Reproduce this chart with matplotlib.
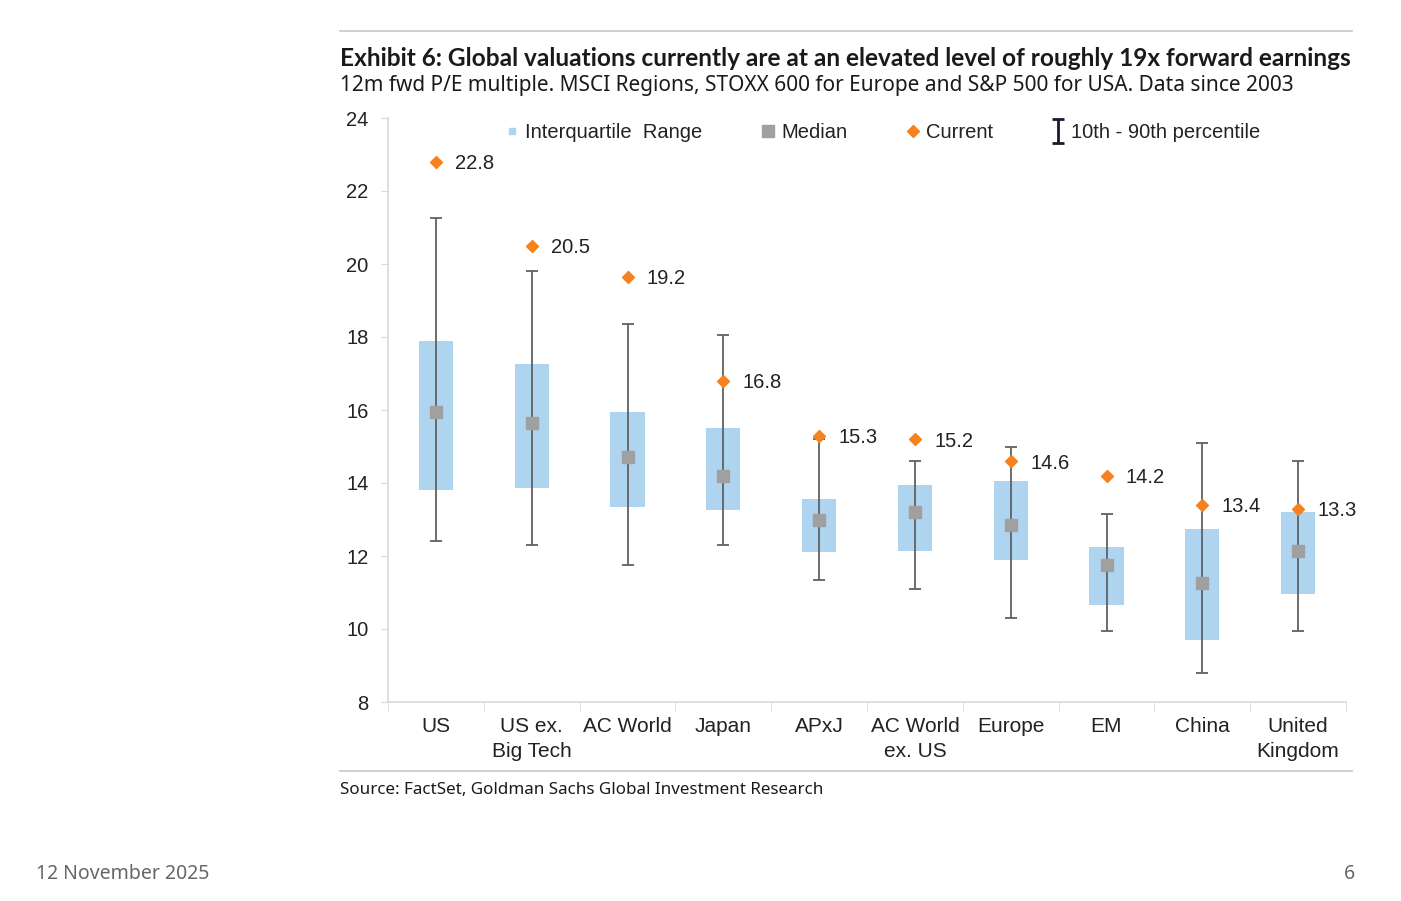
import numpy as np
import matplotlib.pyplot as plt
from matplotlib.lines import Line2D
from matplotlib.path import Path

regions = ['US', 'US ex.\nBig Tech', 'AC World', 'Japan', 'APxJ',
           'AC World\nex. US', 'Europe', 'EM', 'China', 'United\nKingdom']
p10 = [12.4, 12.3, 11.75, 12.3, 11.35, 11.1, 10.3, 9.95, 8.8, 9.95]
p25 = [13.8, 13.85, 13.35, 13.25, 12.1, 12.15, 11.9, 10.65, 9.7, 10.95]
median = [15.95, 15.65, 14.7, 14.2, 13.0, 13.2, 12.85, 11.75, 11.25, 12.15]
p75 = [17.9, 17.25, 15.95, 15.5, 13.55, 13.95, 14.05, 12.25, 12.75, 13.2]
p90 = [21.25, 19.8, 18.35, 18.05, 15.2, 14.6, 15.0, 13.15, 15.1, 14.6]
# marker positions as drawn in the source chart (AC World marker sits above its label)
current = [22.8, 20.5, 19.65, 16.8, 15.3, 15.2, 14.6, 14.2, 13.4, 13.3]
current_labels = ['22.8', '20.5', '19.2', '16.8', '15.3', '15.2', '14.6',
                  '14.2', '13.4', '13.3']

IQR_BLUE = '#aed4f0'
MED_GRAY = '#a0a0a0'
ORANGE = '#f5821f'
WHISK = '#606060'
AXIS_GRAY = '#d9d9d9'
CHART_FONT = ['Liberation Sans', 'DejaVu Sans']

fig = plt.figure(figsize=(14.01, 9.01), dpi=100)
W, H = 1401, 901
ax = fig.add_axes([388 / W, 1 - 702 / H, (1346 - 388) / W, (702 - 118) / H])

x = np.arange(len(regions))
p25a = np.array(p25)
p75a = np.array(p75)
med = np.array(median)

ax.bar(x, p75a - p25a, bottom=p25a, width=0.355, color=IQR_BLUE, zorder=2)
ax.errorbar(x, med, yerr=[med - np.array(p10), np.array(p90) - med],
            fmt='none', ecolor=WHISK, elinewidth=1.3, capsize=4.5,
            capthick=1.3, zorder=3)
ax.plot(x, med, linestyle='none', marker='s', markersize=9,
        color=MED_GRAY, zorder=4)
ax.plot(x, current, linestyle='none', marker='D', markersize=6.5,
        color=ORANGE, zorder=5)
for xi, v, lab in zip(x, current, current_labels):
    ax.annotate(lab, xy=(xi, v), xytext=(14, -1.5),
                textcoords='offset points', va='center', ha='left',
                fontsize=14.5, family=CHART_FONT, color='#222222')

ax.set_xlim(-0.5, len(regions) - 0.5)
ax.set_ylim(8, 24)
ax.set_yticks(np.arange(8, 25, 2))
ax.tick_params(axis='y', labelsize=14.5, length=5, color=AXIS_GRAY,
               pad=9, labelcolor='#222222')
for lab in ax.get_yticklabels():
    lab.set_family(CHART_FONT)

ax.set_xticks(x)
ax.set_xticklabels(regions, fontsize=15, family=CHART_FONT,
                   color='#222222', linespacing=1.35)
ax.tick_params(axis='x', length=0, pad=11)
ax.set_xticks(np.arange(-0.5, len(regions)), minor=True)
ax.tick_params(axis='x', which='minor', length=7, color=AXIS_GRAY)

for side in ['top', 'right']:
    ax.spines[side].set_visible(False)
for side in ['left', 'bottom']:
    ax.spines[side].set_color(AXIS_GRAY)
    ax.spines[side].set_linewidth(1.2)

ibeam = Path([(-0.5, 1), (0.5, 1), (0, 1), (0, -1), (-0.5, -1), (0.5, -1)],
             [Path.MOVETO, Path.LINETO, Path.MOVETO, Path.LINETO,
              Path.MOVETO, Path.LINETO])
handles = [
    Line2D([], [], linestyle='none', marker='s', markersize=5,
           color=IQR_BLUE),
    Line2D([], [], linestyle='none', marker='s', markersize=9,
           color=MED_GRAY),
    Line2D([], [], linestyle='none', marker='D', markersize=6,
           color=ORANGE),
    Line2D([], [], linestyle='none', marker=ibeam, markersize=17,
           markeredgewidth=2, color='#1a1a2e'),
]
labels = ['Interquartile  Range', 'Median', 'Current', '10th - 90th percentile']
ax.legend(handles, labels, ncol=4, loc='center', frameon=False,
          bbox_to_anchor=(0.517, 0.975), prop={'family': CHART_FONT, 'size': 14.5},
          handlelength=0.6, handletextpad=0.35, columnspacing=2.95,
          labelcolor='#222222')

# page furniture
fig.add_artist(Line2D([340 / W, 1352 / W], [1 - 31 / H, 1 - 31 / H],
                      color='#c8c8c8', linewidth=1.2))
fig.add_artist(Line2D([340 / W, 1352 / W], [1 - 771 / H, 1 - 771 / H],
                      color='#c8c8c8', linewidth=1.2))
fig.text(340 / W, 1 - 59 / H,
         'Exhibit 6: Global valuations currently are at an elevated level of roughly 19x forward earnings',
         fontsize=17.6, fontweight='bold', family='Lato', color='#1a1a1a',
         va='center', ha='left')
fig.text(340 / W, 1 - 85 / H,
         '12m fwd P/E multiple. MSCI Regions, STOXX 600 for Europe and S&P 500 for USA. Data since 2003',
         fontsize=15, family='Noto Sans', color='#1a1a1a', va='center', ha='left')
fig.text(340 / W, 1 - 790 / H,
         'Source: FactSet, Goldman Sachs Global Investment Research',
         fontsize=12.25, family='Noto Sans', color='#1a1a1a', va='center', ha='left')
fig.text(36 / W, 1 - 874 / H, '12 November 2025', fontsize=14,
         family='Noto Sans', color='#666666', va='center', ha='left')
fig.text(1355 / W, 1 - 874 / H, '6', fontsize=14,
         family='Noto Sans', color='#666666', va='center', ha='right')

fig.savefig('out.png', dpi=100)
